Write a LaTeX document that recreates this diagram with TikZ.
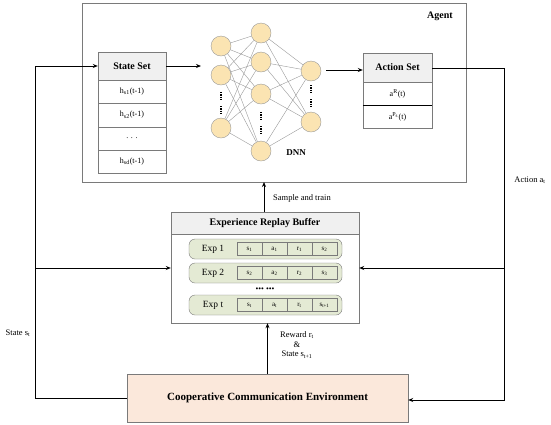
\documentclass[tikz,border=0pt]{standalone}
\usepackage{fontspec}
\setmainfont{Liberation Serif}
\usetikzlibrary{arrows.meta}
\definecolor{bordergray}{HTML}{7A7A7A}
\definecolor{hdrfill}{HTML}{F0F0F0}
\definecolor{neuronfill}{HTML}{FBE4B2}
\definecolor{neurondraw}{HTML}{9A9A9A}
\definecolor{expfill}{HTML}{E4EAD4}
\definecolor{envfill}{HTML}{FBE8DB}
\tikzset{
  hdr/.style={draw=bordergray, fill=hdrfill, minimum width=#1, inner sep=0pt, font=\fontsize{10}{11}\selectfont\bfseries},
  row/.style={draw=bordergray, fill=white, minimum width=#1, inner sep=0pt, font=\fontsize{8}{9}\selectfont},
  neuron/.style={circle, draw=neurondraw, fill=neuronfill, minimum size=20pt, inner sep=0pt},
  syn/.style={draw=gray!80, line width=0.4pt},
  conn/.style={draw=black, line width=0.8pt},
  arr/.style={conn, -{Stealth[length=5pt,width=4pt]}},
  exprow/.style={draw=bordergray, fill=expfill, rounded corners=6pt, minimum width=153pt, minimum height=20pt, inner sep=0pt},
  cell/.style={draw=bordergray, fill=expfill, minimum width=25pt, minimum height=13pt, inner sep=0pt, font=\fontsize{7}{8}\selectfont},
  lbl/.style={font=\fontsize{8.5}{9.5}\selectfont, inner sep=0pt, align=center},
  vdots/.style={line width=1.5pt, dash pattern=on 1.2pt off 1.1pt},
}
\begin{document}
\begin{tikzpicture}[x=1pt,y=-1pt]
\useasboundingbox (0,0) rectangle (551,424);
% Agent box
\node[draw=bordergray, minimum width=384pt, minimum height=179pt, inner sep=0pt] (agent) at (274,92.5) {};
\node[font=\fontsize{10}{11}\selectfont\bfseries] (agentlbl) at (440,16) {Agent};
% State set
\node[hdr=68pt, minimum height=28pt] (ss) at (132,66) {State Set};
\node[row=68pt, minimum height=23pt] (s1) at (132,91.5) {h\textsubscript{s1}(t-1)};
\node[row=68pt, minimum height=24pt] (s2) at (132,115) {h\textsubscript{s2}(t-1)};
\node[row=68pt, minimum height=23pt] (s3) at (132,138.5) {. . .};
\node[row=68pt, minimum height=23pt] (s4) at (132,161.5) {h\textsubscript{sd}(t-1)};
% Action set
\node[hdr=69pt, minimum height=29pt] (as) at (397.5,67.5) {Action Set};
\node[row=69pt, minimum height=23pt] (a1) at (397.5,93.5) {a\textsuperscript{R}(t)};
\node[row=69pt, minimum height=23pt] (a2) at (397.5,116.5) {a\textsuperscript{P\textsubscript{s}}(t)};
\draw[black, line width=0.6pt] (a1.south west) -- (a1.south east);
% DNN
\node[neuron] (l1) at (221,46) {};
\node[neuron] (l2) at (221,75) {};
\node[neuron] (l3) at (221,128) {};
\node[neuron] (m1) at (261,33) {};
\node[neuron] (m2) at (261,62) {};
\node[neuron] (m3) at (261,94) {};
\node[neuron] (m4) at (261,151) {};
\node[neuron] (r1) at (311,71) {};
\node[neuron] (r2) at (311,122) {};
\foreach \a in {l1,l2,l3}{\foreach \b in {m1,m2,m3,m4}{\draw[syn] (\a) -- (\b);}}
\foreach \a in {m1,m2,m3,m4}{\foreach \b in {r1,r2}{\draw[syn] (\a) -- (\b);}}
\draw[vdots] (221,92) -- (221,101); \draw[vdots] (221,106) -- (221,115);
\draw[vdots] (261,112) -- (261,121); \draw[vdots] (261,126) -- (261,135);
\draw[vdots] (311,85) -- (311,94); \draw[vdots] (311,99) -- (311,108);
\node[font=\fontsize{9}{10}\selectfont\bfseries] (dnn) at (296,153) {DNN};
\coordinate (dnnin) at (201,66);
\coordinate (dnnout) at (326,70);
\draw[arr] (ss.east) -- (dnnin);
\draw[arr] (dnnout) -- (as.west |- dnnout);
% Buffer
\node[draw=bordergray, fill=white, minimum width=188pt, minimum height=111pt, inner sep=0pt] (buf) at (265,267.5) {};
\node[hdr=188pt, minimum height=22pt] (bufh) at (265,223) {Experience Replay Buffer};
\foreach \r/\y/\lab/\c/\d/\e/\f in {1/249/{Exp 1}/s\textsubscript{1}/a\textsubscript{1}/r\textsubscript{1}/s\textsubscript{2},
  2/273/{Exp 2}/s\textsubscript{2}/a\textsubscript{2}/r\textsubscript{2}/s\textsubscript{3},
  3/305/{Exp t}/s\textsubscript{t}/a\textsubscript{t}/r\textsubscript{t}/s\textsubscript{t+1}}{
  \node[exprow] (e\r) at (265.5,\y) {};
  \node[font=\fontsize{9.5}{10}\selectfont] (el\r) at (213,\y) {\lab};
  \node[cell] (c\r a) at (249.5,\y) {\c};
  \node[cell] (c\r b) at (274.5,\y) {\d};
  \node[cell] (c\r c) at (299.5,\y) {\e};
  \node[cell] (c\r d) at (324.5,\y) {\f};
}
\node[font=\fontsize{8}{9}\selectfont] (edots) at (265,289.5) {\textbullet\textbullet\textbullet\ \textbullet\textbullet\textbullet};
% Environment
\node[draw=bordergray, fill=envfill, minimum width=281pt, minimum height=48pt, inner sep=0pt, font=\fontsize{11}{12}\selectfont\bfseries] (env) at (267.5,398) {Cooperative Communication Environment};
% Connectors
\coordinate (lt) at (35,66);
\coordinate (lb) at (35,398);
\coordinate (lm) at (35,268);
\coordinate (rt) at (504,68);
\coordinate (rb) at (504,400);
\coordinate (rm) at (504,268);
\coordinate (sampbot) at (264,212);
\coordinate (samptop) at (264,182);
\draw[arr] (env.west) -- (lb) -- (lt) -- (ss.west);
\draw[arr] (lm) -- (buf.west |- lm);
\draw[arr] (as.east |- rt) -- (rt) -- (rb) -- (env.east |- rb);
\draw[arr] (rm) -- (buf.east |- rm);
\draw[arr] (sampbot) -- (samptop);
\draw[arr] (env.north) -- (buf.south -| env.north);
% labels
\node[lbl, anchor=west] (samp) at (273,198) {Sample and train};
\node[lbl] (rew) at (297,345) {Reward r\textsubscript{t}\\[0pt]\&\\[0pt]State s\textsubscript{t+1}};
\node[lbl] (stl) at (18,333) {State s\textsubscript{t}};
\node[lbl] (acl) at (530,180) {Action a\textsubscript{t}};
\end{tikzpicture}
\end{document}
